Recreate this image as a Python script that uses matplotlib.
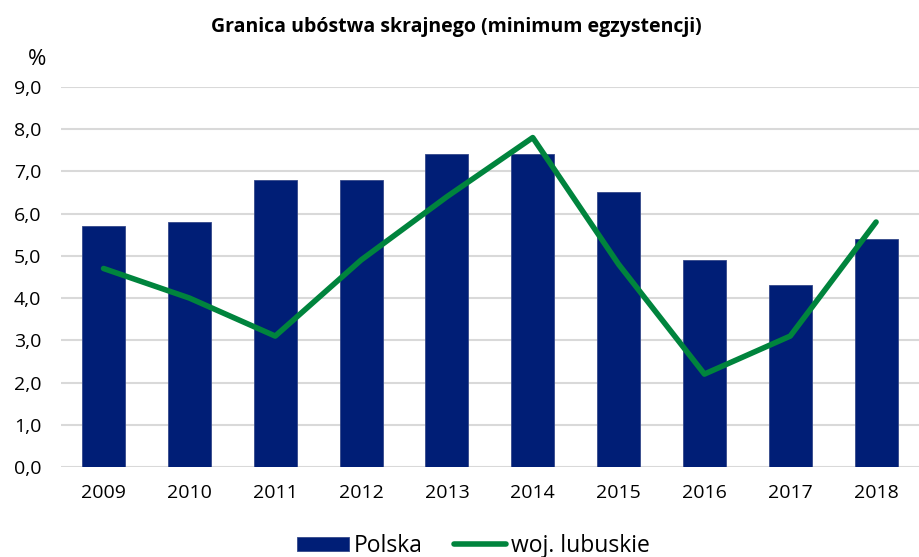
import matplotlib.pyplot as plt
import numpy as np

lata = ["2009", "2010", "2011", "2012", "2013", "2014", "2015", "2016", "2017", "2018"]
polska = [5.7, 5.8, 6.8, 6.8, 7.4, 7.4, 6.5, 4.9, 4.3, 5.4]
lubuskie = [4.7, 4.0, 3.1, 4.9, 6.4, 7.8, 4.8, 2.2, 3.1, 5.8]
y_ticks = [0, 1, 2, 3, 4, 5, 6, 7, 8, 9]

plt.rcParams['font.family'] = ['Open Sans', 'DejaVu Sans']

fig = plt.figure(figsize=(9.19, 5.57), dpi=100)
ax = fig.add_axes([0.066, 0.1616, 0.934, 0.6824])

x = np.arange(len(lata))
slupki = ax.bar(x, polska, width=0.5, color='#001e76', edgecolor='#34488a', linewidth=0.6,
                label='Polska', zorder=2)
linia, = ax.plot(x, lubuskie, color='#00843d', linewidth=4, label='woj. lubuskie',
                 solid_capstyle='round', zorder=3)

ax.set_xlim(-0.5, len(lata) - 0.5)
ax.set_ylim(0, 9)
ax.set_yticks(y_ticks)
ax.set_yticklabels([f"{v:.1f}".replace('.', ',') for v in y_ticks], fontsize=14)
ax.set_xticks(x)
ax.set_xticklabels(lata, fontsize=14)
ax.tick_params(axis='x', length=0, pad=12)
ax.tick_params(axis='y', length=0, pad=14)
ax.grid(axis='y', color='#d9d9d9', linewidth=1.5, zorder=0)
ax.set_axisbelow(True)
for s in ax.spines.values():
    s.set_visible(False)

fig.text(0.497, 0.951, "Granica ubóstwa skrajnego (minimum egzystencji)",
         ha='center', va='center', fontsize=14, fontweight='bold')
fig.text(0.04, 0.894, "%", ha='center', va='center', fontsize=16)

fig.legend([slupki, linia], ['Polska', 'woj. lubuskie'], loc='center',
           bbox_to_anchor=(0.515, 0.02), ncol=2, frameon=False,
           fontsize=16.5, handlelength=2.3, handleheight=0.55, handletextpad=0.2,
           columnspacing=1.35, borderpad=0.1)

fig.savefig("out.png", dpi=100)
